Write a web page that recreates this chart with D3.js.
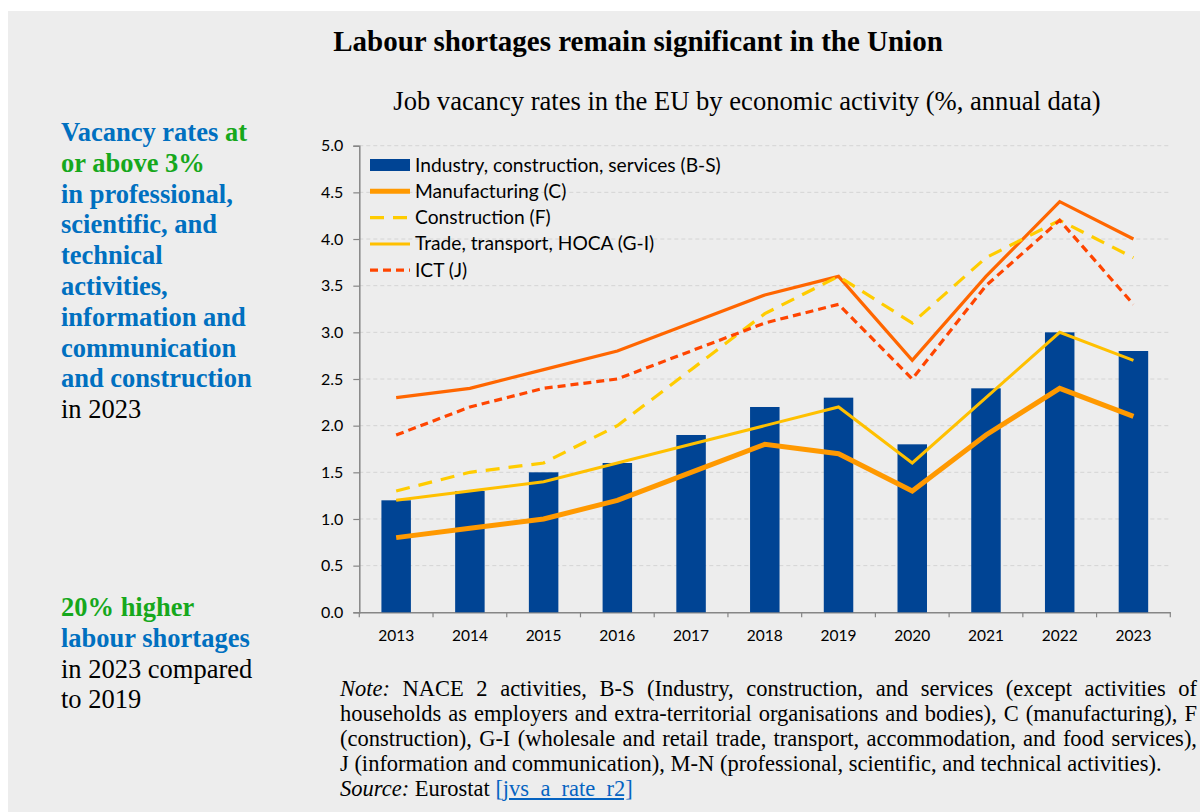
<!DOCTYPE html>
<html lang="en">
<head>
<meta charset="UTF-8">
<title>Labour shortages remain significant in the Union</title>
<script src="https://d3js.org/d3.v7.min.js"></script>
<style>
    body { margin: 0; background: #ffffff; }
    #wrap { position: relative; width: 1200px; height: 812px; overflow: hidden; }
    svg { position: absolute; left: 0; top: 0; }
    .note {
        position: absolute;
        left: 340px;
        top: 677px;
        width: 857px;
        font-family: "Liberation Serif", "Times New Roman", serif;
        font-size: 22.5px;
        line-height: 24.9px;
        color: #000;
    }
    .note .j { text-align: justify; text-align-last: justify; white-space: nowrap; }
    .note a { color: #0563c1; text-decoration: underline; }
</style>
</head>
<body>
<div id="wrap">
    <div id="chart"></div>
    <div class="note">
        <div class="j"><i>Note:</i> NACE 2 activities, B-S (Industry, construction, and services (except activities of</div>
        <div class="j">households as employers and extra-territorial organisations and bodies), C (manufacturing), F</div>
        <div class="j">(construction), G-I (wholesale and retail trade, transport, accommodation, and food services),</div>
        <div>J (information and communication), M-N (professional, scientific, and technical activities).</div>
        <div><i>Source:</i> Eurostat <a href="#">[jvs_a_rate_r2]</a></div>
    </div>
</div>
<script>
    // Data
    const years = ["2013", "2014", "2015", "2016", "2017", "2018", "2019", "2020", "2021", "2022", "2023"];
    const industryBS = [1.2, 1.3, 1.5, 1.6, 1.9, 2.2, 2.3, 1.8, 2.4, 3.0, 2.8];
    const manufacturingC = [0.8, 0.9, 1.0, 1.2, 1.5, 1.8, 1.7, 1.3, 1.9, 2.4, 2.1];
    const constructionF = [1.3, 1.5, 1.6, 2.0, 2.6, 3.2, 3.6, 3.1, 3.8, 4.2, 3.8];
    const tradeGI = [1.2, 1.3, 1.4, 1.6, 1.8, 2.0, 2.2, 1.6, 2.3, 3.0, 2.7];
    const ictJ = [1.9, 2.2, 2.4, 2.5, 2.8, 3.1, 3.3, 2.5, 3.5, 4.2, 3.3];
    const profMN = [2.3, 2.4, 2.6, 2.8, 3.1, 3.4, 3.6, 2.7, 3.6, 4.4, 4.0];
    const yTicks = [0, 0.5, 1.0, 1.5, 2.0, 2.5, 3.0, 3.5, 4.0, 4.5, 5.0];

    const W = 1200, H = 812;
    const plot = { left: 359.3, right: 1170.3, top: 145.7, bottom: 612.3 };

    const svg = d3.select("#chart").append("svg")
        .attr("width", W)
        .attr("height", H);

    // grey page background
    svg.append("rect")
        .attr("x", 8).attr("y", 11)
        .attr("width", W - 8).attr("height", H - 11)
        .attr("fill", "#ededed");

    // Titles
    svg.append("text")
        .attr("x", 638).attr("y", 51)
        .attr("text-anchor", "middle")
        .style("font-family", "'Liberation Serif', 'Times New Roman', serif")
        .style("font-weight", "bold")
        .style("font-size", "29px")
        .text("Labour shortages remain significant in the Union");

    svg.append("text")
        .attr("x", 747).attr("y", 110)
        .attr("text-anchor", "middle")
        .style("font-family", "'Liberation Serif', 'Times New Roman', serif")
        .style("font-size", "26.6px")
        .text("Job vacancy rates in the EU by economic activity (%, annual data)");

    // Left side comments
    const blue = "#0070c0", green = "#16a81c";
    const side1 = [
        [["Vacancy rates ", blue, true], ["at", green, true]],
        [["or above 3%", green, true]],
        [["in professional,", blue, true]],
        [["scientific, and", blue, true]],
        [["technical", blue, true]],
        [["activities,", blue, true]],
        [["information and", blue, true]],
        [["communication", blue, true]],
        [["and construction", blue, true]],
        [["in 2023", "#000", false]]
    ];
    const side2 = [
        [["20% higher", green, true]],
        [["labour shortages", blue, true]],
        [["in 2023 compared", "#000", false]],
        [["to 2019", "#000", false]]
    ];
    function sideBlock(lines, y0) {
        lines.forEach((parts, i) => {
            const t = svg.append("text")
                .attr("x", 61).attr("y", y0 + i * 30.8)
                .style("font-family", "'Liberation Serif', 'Times New Roman', serif")
                .style("font-size", "26.5px");
            parts.forEach(p => {
                t.append("tspan")
                    .attr("fill", p[1])
                    .style("font-weight", p[2] ? "bold" : "normal")
                    .text(p[0]);
            });
        });
    }
    sideBlock(side1, 141);
    sideBlock(side2, 616);

    // Scales
    const x = d3.scaleBand()
        .domain(years)
        .range([plot.left, plot.right])
        .padding(0);

    const y = d3.scaleLinear()
        .domain([0, 5])
        .range([plot.bottom, plot.top]);

    const cx = d => x(d) + x.bandwidth() / 2;

    // Gridlines
    svg.append("g")
        .selectAll("line")
        .data(yTicks.filter(d => d > 0))
        .join("line")
        .attr("x1", plot.left).attr("x2", plot.right)
        .attr("y1", d => y(d)).attr("y2", d => y(d))
        .attr("stroke", "#d4d4d4")
        .attr("stroke-width", 1)
        .attr("stroke-dasharray", "4,3");

    // Y axis
    const yAxis = svg.append("g")
        .attr("transform", `translate(${plot.left},0)`)
        .call(d3.axisLeft(y).tickValues(yTicks).tickFormat(d3.format(".1f")).tickSize(6).tickPadding(10));
    yAxis.select(".domain").attr("stroke", "#868686").attr("stroke-width", 1.5);
    yAxis.selectAll(".tick line").attr("stroke", "#868686").attr("stroke-width", 1.2);
    yAxis.selectAll(".tick text")
        .attr("fill", "#000")
        .style("font-family", "Lato, 'Open Sans', sans-serif")
        .style("font-size", "16px");

    // X axis
    const xAxis = svg.append("g")
        .attr("transform", `translate(0,${plot.bottom})`)
        .call(d3.axisBottom(x).tickSize(0).tickPadding(18));
    xAxis.select(".domain").attr("stroke", "#868686").attr("stroke-width", 1.5);
    xAxis.selectAll(".tick text")
        .attr("fill", "#000")
        .style("font-family", "Lato, 'Open Sans', sans-serif")
        .style("font-size", "15.5px");
    // category boundary ticks
    svg.append("g")
        .selectAll("line")
        .data(years.concat(["end"]))
        .join("line")
        .attr("x1", (d, i) => i < years.length ? x(d) : plot.right)
        .attr("x2", (d, i) => i < years.length ? x(d) : plot.right)
        .attr("y1", plot.bottom).attr("y2", plot.bottom + 5)
        .attr("stroke", "#868686")
        .attr("stroke-width", 1.2);

    // Bars
    const barW = x.bandwidth() * 0.4;
    svg.append("g")
        .selectAll("rect")
        .data(years)
        .join("rect")
        .attr("x", d => cx(d) - barW / 2)
        .attr("y", (d, i) => y(industryBS[i]))
        .attr("width", barW)
        .attr("height", (d, i) => y(0) - y(industryBS[i]))
        .attr("fill", "#004494");

    // Lines
    const series = [
        { vals: profMN, color: "#ff6600", width: 3.2, dash: null },
        { vals: constructionF, color: "#ffcc00", width: 3.2, dash: "14,9" },
        { vals: ictJ, color: "#ff4500", width: 3.2, dash: "8,5" },
        { vals: tradeGI, color: "#ffc000", width: 3, dash: null },
        { vals: manufacturingC, color: "#ff9900", width: 5, dash: null }
    ];
    const line = d3.line()
        .x(d => cx(d.year))
        .y(d => y(d.v));
    series.forEach(s => {
        svg.append("path")
            .datum(years.map((yr, i) => ({ year: yr, v: s.vals[i] })))
            .attr("d", line)
            .attr("fill", "none")
            .attr("stroke", s.color)
            .attr("stroke-width", s.width)
            .attr("stroke-linejoin", "miter")
            .attr("stroke-dasharray", s.dash);
    });

    // Legend
    const legend = [
        { label: "Industry, construction, services (B-S)", type: "bar", color: "#004494" },
        { label: "Manufacturing (C)", type: "line", color: "#ff9900", width: 5, dash: null },
        { label: "Construction (F)", type: "line", color: "#ffcc00", width: 3.2, dash: "14,9" },
        { label: "Trade, transport, HOCA (G-I)", type: "line", color: "#ffc000", width: 3, dash: null },
        { label: "ICT (J)", type: "line", color: "#ff4500", width: 3.2, dash: "8,5" }
    ];
    const lg = svg.append("g");
    legend.forEach((d, i) => {
        const ly = 165 + i * 26.3;
        if (d.type === "bar") {
            lg.append("rect")
                .attr("x", 370).attr("y", ly - 6)
                .attr("width", 40).attr("height", 12)
                .attr("fill", d.color);
        } else {
            lg.append("line")
                .attr("x1", 370).attr("x2", 410)
                .attr("y1", ly).attr("y2", ly)
                .attr("stroke", d.color)
                .attr("stroke-width", d.width)
                .attr("stroke-dasharray", d.dash);
        }
        lg.append("text")
            .attr("x", 415).attr("y", ly + 6.5)
            .attr("fill", "#000")
            .style("font-family", "Lato, 'Open Sans', sans-serif")
            .style("font-size", "19.2px")
            .text(d.label);
    });
</script>
</body>
</html>
